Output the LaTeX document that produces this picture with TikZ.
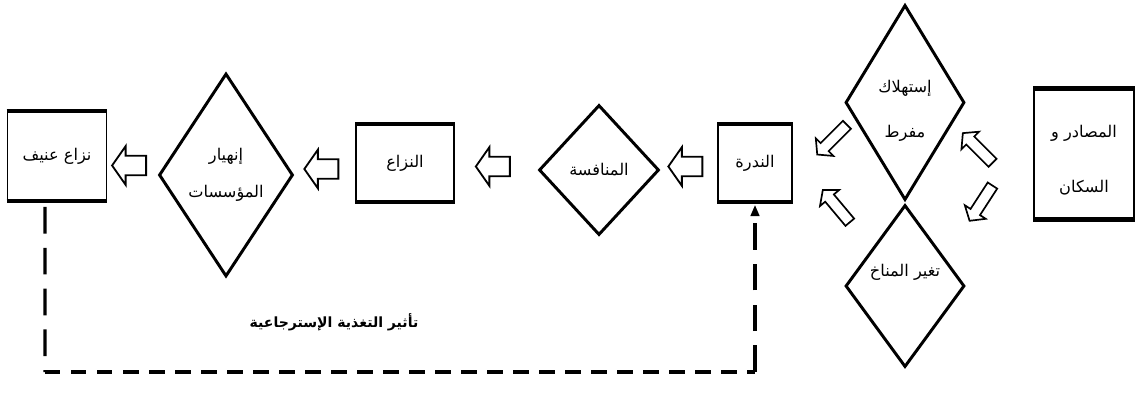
\documentclass[tikz,border=0pt]{standalone}
\usepackage{fontspec}
\newfontfamily\arabicfont[Script=Arabic]{DejaVu Sans}
\TeXXeTstate=1
\usetikzlibrary{shapes.geometric,shapes.arrows,arrows.meta}
\newcommand{\arline}[1]{{\arabicfont\beginR #1\endR}}

\begin{document}
\begin{tikzpicture}[x=0.025cm,y=-0.025cm,font=\fontsize{11.5}{13.5}\selectfont,line join=miter,
		box/.style={draw,line width=1.4pt,inner sep=2pt,align=center},
		rhomb/.style={diamond,draw,line width=2.1pt,inner sep=0pt,align=center},
		inlabel/.style={align=center,inner sep=0pt},
		harrow/.style={single arrow,draw,fill=white,line width=1.3pt,inner xsep=0pt,inner ysep=0.22cm,minimum height=0.85cm,single arrow head extend=0.24cm,single arrow tip angle=110,rotate=180},
		darrow/.style={single arrow,draw,fill=white,line width=1.2pt,inner xsep=0pt,inner ysep=0.12cm,minimum height=1.05cm,single arrow head extend=0.17cm,single arrow tip angle=100},
		fbvert/.style={line width=2.3pt,dash pattern=on 19pt off 10pt},
		fbhoriz/.style={line width=3.2pt,dash pattern=on 11pt off 7.5pt}]
	\fill[white] (0,0) rectangle (1136,394);
	\useasboundingbox (0,0) rectangle (1136,394);
	\node[box,minimum width=2.475cm,minimum height=2.2cm] (violent) at (57,156) {\arline{نزاع عنيف}};
	\node[rhomb,minimum width=3.35cm,minimum height=5.075cm] (collapse) at (226,175) {\arline{إنهيار}\\[0.45cm]\arline{المؤسسات}};
	\node[box,minimum width=2.45cm,minimum height=1.9cm] (conflict) at (405,163) {\arline{النزاع}};
	\node[rhomb,minimum width=3cm,minimum height=3.25cm] (competition) at (599,170) {\arline{المنافسة}};
	\node[box,minimum width=1.85cm,minimum height=1.9cm] (scarcity) at (755,163) {\arline{الندرة}};
	\node[rhomb,minimum width=2.975cm,minimum height=4.875cm,label={[inlabel,yshift=-0.22cm]center:{\arabicfont\beginR إستهلاك\endR}\\[0.65cm]{\arabicfont\beginR مفرط\endR}}] (consumption) at (905,102.5) {};
	\node[rhomb,minimum width=2.975cm,minimum height=4.05cm,label={[inlabel,yshift=0.35cm]center:{\arabicfont\beginR تغير المناخ\endR}}] (climate) at (905,286) {};
	\node[box,minimum width=2.5cm,minimum height=3.225cm,label={[inlabel,yshift=-0.15cm]center:{\arabicfont\beginR المصادر و\endR}\\[0.9cm]{\arabicfont\beginR السكان\endR}}] (sources) at (1084,154) {};
	\foreach \b in {violent,conflict,scarcity,sources}
		\draw[line width=3.5pt] (\b.north west) -- (\b.north east) (\b.south west) -- (\b.south east);
	\path (collapse.west) -- node[harrow] {} (violent.east);
	\path (conflict.west) -- node[harrow] {} (collapse.east);
	\path (competition.west) -- node[harrow] {} (conflict.east);
	\path (scarcity.west) -- node[harrow] {} (competition.east);
	\path (consumption.south west) -- node[darrow,rotate=225] {} (scarcity.north east);
	\path (climate.north west) -- node[pos=0.45,darrow,rotate=130] {} (scarcity.east);
	\path ([yshift=0.18cm]sources.west) -- node[pos=0.55,darrow,rotate=135] {} (consumption.south east);
	\path (sources.west) -- node[pos=0.52,darrow,rotate=237] {} (climate.north east);
	\coordinate (fbl) at (45,372);
	\coordinate (fbr) at (755,372);
	\draw[fbvert] ([xshift=-0.3cm,yshift=-0.15cm]violent.south) -- (fbl);
	\draw[fbhoriz] (fbl) -- (fbr);
	\draw[fbvert,-{Triangle[length=8pt,width=6pt]}] (fbr) -- ([yshift=-0.07cm]scarcity.south);
	\node[font=\fontsize{10}{12}\selectfont\bfseries] (fblabel) at (334,322) {\arline{تأثير التغذية الإسترجاعية}};
\end{tikzpicture}
\end{document}
